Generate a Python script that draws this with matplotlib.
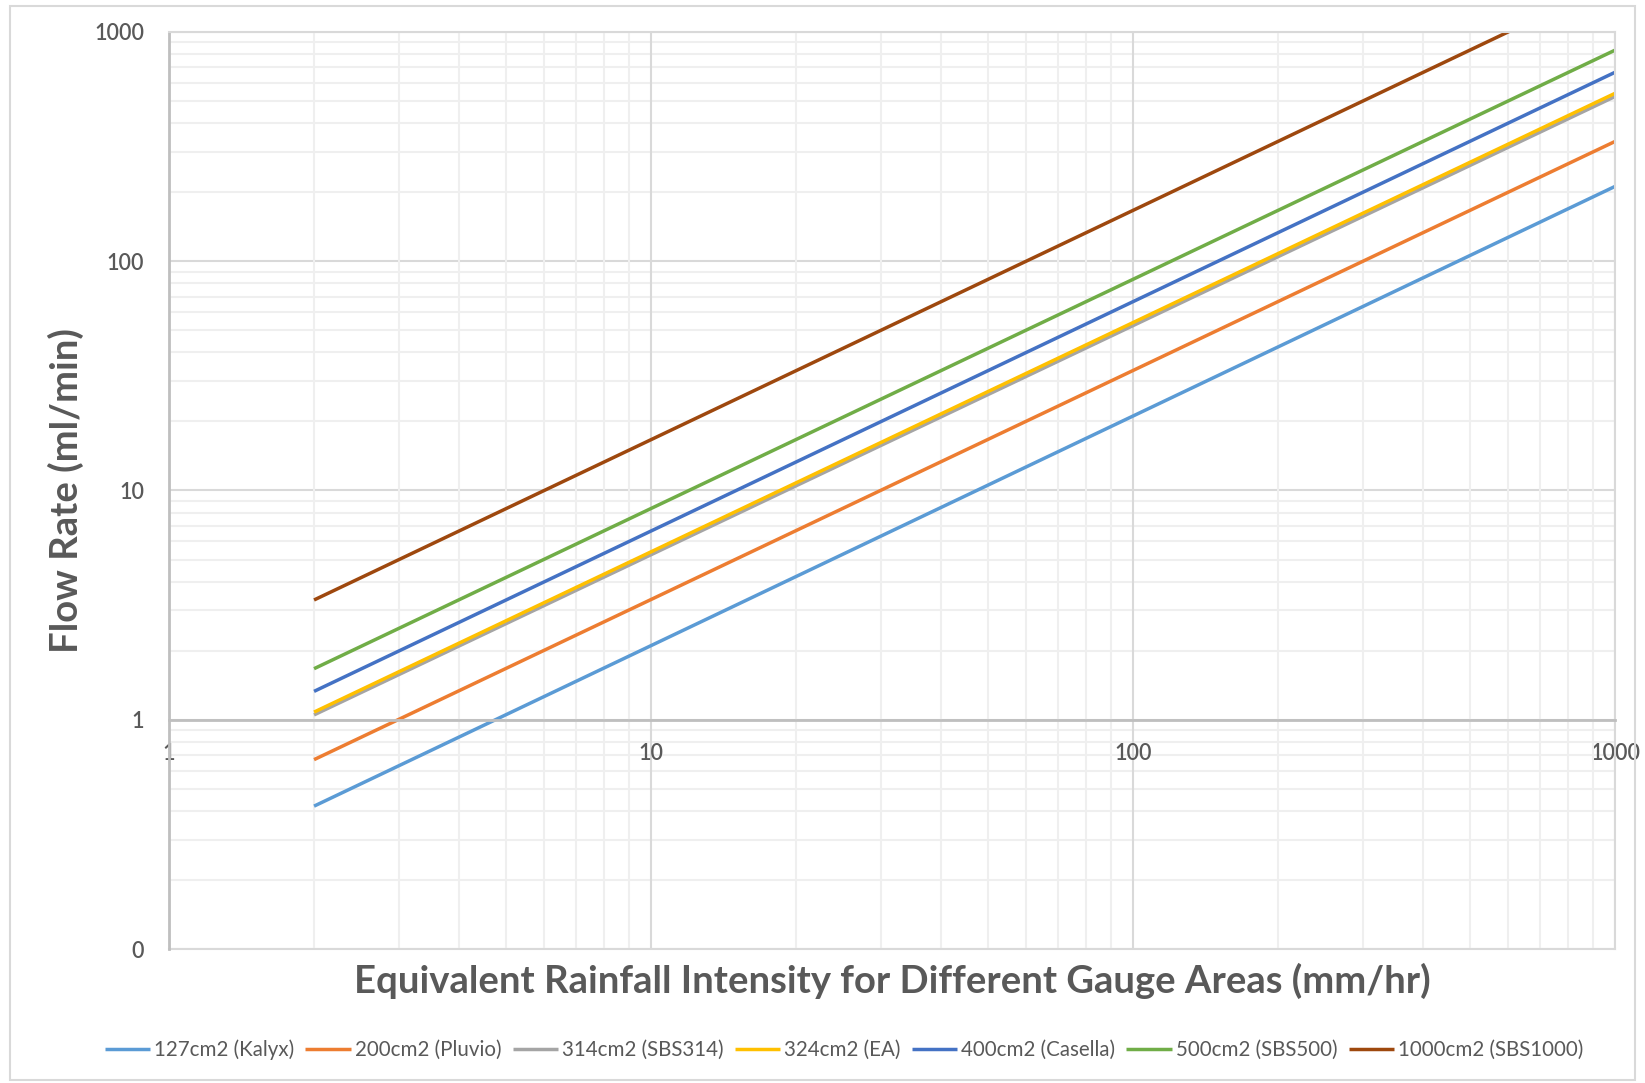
import numpy as np
import matplotlib.pyplot as plt
from matplotlib.ticker import FixedLocator, LogLocator, NullFormatter
from matplotlib.patches import Rectangle

# data (flow rate at 2 and 1000 mm/hr)
intensity = [2, 1000]
labels = ['127cm2 (Kalyx)', '200cm2 (Pluvio)', '314cm2 (SBS314)', '324cm2 (EA)',
          '400cm2 (Casella)', '500cm2 (SBS500)', '1000cm2 (SBS1000)']
flow_kalyx = [0.42, 212]
flow_pluvio = [0.67, 333]
flow_sbs314 = [1.05, 523]
flow_ea = [1.08, 540]
flow_casella = [1.33, 667]
flow_sbs500 = [1.67, 833]
flow_sbs1000 = [3.33, 1667]
colors = ['#5B9BD5', '#ED7D31', '#A5A5A5', '#FFC000', '#4472C4', '#70AD47', '#9E480E']

x_ticks = [1, 10, 100, 1000]
y_ticks = [0.1, 1, 10, 100, 1000]
y_ticklabels = ['0', '1', '10', '100', '1000']

plt.rcParams['font.family'] = ['Lato', 'DejaVu Sans']
txt = '#595959'

fig = plt.figure(figsize=(16.45, 10.83), dpi=100)
fig.patches.append(Rectangle((10 / 1645, 3 / 1083), 1 - 20 / 1645, 1 - 9 / 1083,
                             transform=fig.transFigure, fill=False,
                             edgecolor='#d9d9d9', linewidth=1.5))
ax = fig.add_axes([0.1027, 0.1237, 0.8791, 0.8468])

series = [flow_kalyx, flow_pluvio, flow_sbs314, flow_ea, flow_casella, flow_sbs500, flow_sbs1000]
for s, c, lab in zip(series, colors, labels):
    ax.plot(intensity, s, color=c, lw=2.5, label=lab, solid_capstyle='butt')

ax.set_xscale('log')
ax.set_yscale('log')
ax.set_xlim(1, 1000)
ax.set_ylim(0.1, 1000)

ax.xaxis.set_major_locator(FixedLocator(x_ticks))
ax.set_xticklabels([str(v) for v in x_ticks])
ax.yaxis.set_major_locator(FixedLocator(y_ticks))
ax.set_yticklabels(y_ticklabels)
ax.xaxis.set_minor_locator(LogLocator(base=10, subs=np.arange(2, 10)))
ax.yaxis.set_minor_locator(LogLocator(base=10, subs=np.arange(2, 10)))
ax.xaxis.set_minor_formatter(NullFormatter())
ax.yaxis.set_minor_formatter(NullFormatter())

ax.grid(which='major', color='#d9d9d9', lw=1.5)
ax.grid(which='minor', color='#efefef', lw=1.5)
ax.set_axisbelow(True)
# draw horizontal gridlines before the x tick labels
ax.yaxis.set_zorder(0.4)
ax.axhline(0.1, color='#d9d9d9', lw=1.5, clip_on=False, zorder=1)

# x axis crosses at y = 1, like Excel
ax.spines['bottom'].set_position(('data', 1))
ax.spines['bottom'].set_color('#bfbfbf')
ax.spines['bottom'].set_linewidth(2)
for side in ['top', 'right']:
    ax.spines[side].set_color('#d9d9d9')
    ax.spines[side].set_linewidth(1.5)
ax.spines['left'].set_color('#bfbfbf')
ax.spines['left'].set_linewidth(2)

ax.tick_params(which='both', length=0)
ax.tick_params(axis='x', pad=17, labelsize=15.5, labelcolor=txt)
ax.tick_params(axis='y', pad=18, labelsize=15.5, labelcolor=txt)
for t in ax.get_xticklabels() + ax.get_yticklabels():
    t.set_fontweight('semibold')

ax.set_ylabel('Flow Rate (ml/min)', fontsize=27.5, fontweight='bold', color=txt)
ax.yaxis.set_label_coords(-0.0712, 0.5)
ax.yaxis.label.set_va('center')
ax.set_xlabel('Equivalent Rainfall Intensity for Different Gauge Areas (mm/hr)',
              fontsize=27.5, fontweight='bold', color=txt)
ax.xaxis.set_label_coords(0.5, -0.0349)
ax.xaxis.label.set_va('center')

leg = fig.legend(loc='center', bbox_to_anchor=(0.513, 0.0305), ncol=7, frameon=False,
                 fontsize=14.8, handlelength=2.2, handletextpad=0.2, columnspacing=0.55)
for t in leg.get_texts():
    t.set_color(txt)

fig.savefig('out.png', dpi=100)
